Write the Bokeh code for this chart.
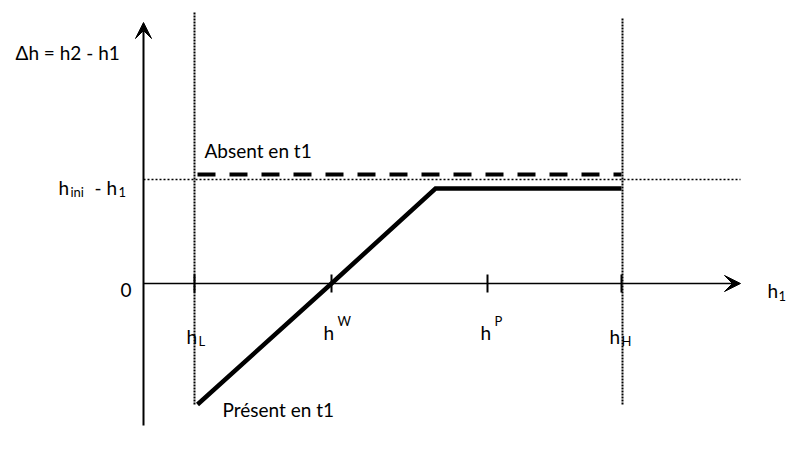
from bokeh.plotting import figure
from bokeh.models import Range1d, Arrow, VeeHead, Label
from bokeh.embed import file_html
from bokeh.resources import INLINE

# ---- data (schematic values) ----
tick_names = ["L", "W", "P", "H"]
tick_styles = ["sub", "sup", "sup", "sub"]
tick_x = [51, 188, 344, 478]
present_x = [54, 188, 292, 478]
present_y = [-121, 0, 95, 95]
absent_x = [54, 478]
absent_y = [109, 109]
h_ini_level = 104
x_axis_end = 597
y_axis_bottom = -142
y_axis_top = 261

FONT = "Lato"
MAIN = "19px"
SMALL = "13px"

p = figure(width=787, height=455, x_range=Range1d(-143, 644), y_range=Range1d(-172, 283),
           output_backend="svg", toolbar_location=None, x_axis_type=None, y_axis_type=None,
           min_border=0, outline_line_color=None)
p.grid.visible = False

# dotted reference lines
p.line([tick_x[0], tick_x[0]], [271, present_y[0]], line_color="black", line_width=2, line_dash="2 1")
p.line([tick_x[-1] + 1, tick_x[-1] + 1], [265, -122], line_color="black", line_width=2, line_dash="2 1")
p.line([0, x_axis_end], [h_ini_level, h_ini_level], line_color="black", line_width=1.5, line_dash="2 2")

# axes with arrows
p.add_layout(Arrow(end=VeeHead(size=16, fill_color="black", line_color="black"),
                   x_start=0, y_start=y_axis_bottom, x_end=0, y_end=y_axis_top,
                   line_color="black", line_width=2))
p.add_layout(Arrow(end=VeeHead(size=16, fill_color="black", line_color="black"),
                   x_start=0, y_start=0, x_end=x_axis_end, y_end=0,
                   line_color="black", line_width=1.6))

# tick marks
p.segment(x0=tick_x, y0=[-9] * len(tick_x), x1=tick_x, y1=[9] * len(tick_x), line_color="black", line_width=2)

# curves
p.line(absent_x, absent_y, line_color="black", line_width=4, line_dash="18 14", line_cap="butt")
p.line(present_x, present_y, line_color="black", line_width=4.5, line_join="miter")

def lab(x, y, t, size=MAIN):
    p.add_layout(Label(x=x, y=y, text=t, text_font=FONT, text_font_size=size,
                       text_color="black", text_baseline="alphabetic", text_align="left"))

lab(-128, 231, "Δh = h2 - h1")
lab(-85, 96, "h")
lab(-73, 92, "ini", SMALL)
lab(-49, 96, "- h")
lab(-25, 92, "1", SMALL)
lab(-23, -6, "0")
lab(61, 133, "Absent en t1")
lab(79, -126, "Présent  en t1")

h_offsets = [-8, -8, -7, -12]
for name, style, tx, off in zip(tick_names, tick_styles, tick_x, h_offsets):
    if style == "sub":
        lab(tx + off, -53, "h")
        lab(tx + off + 12, -57, name, SMALL)
    else:
        lab(tx + off, -49, "h")
        lab(tx + off + 14, -37, name, SMALL)

lab(624, -7, "h")
lab(635, -12, "1", SMALL)

open("out.html", "w").write(file_html(p, INLINE))
